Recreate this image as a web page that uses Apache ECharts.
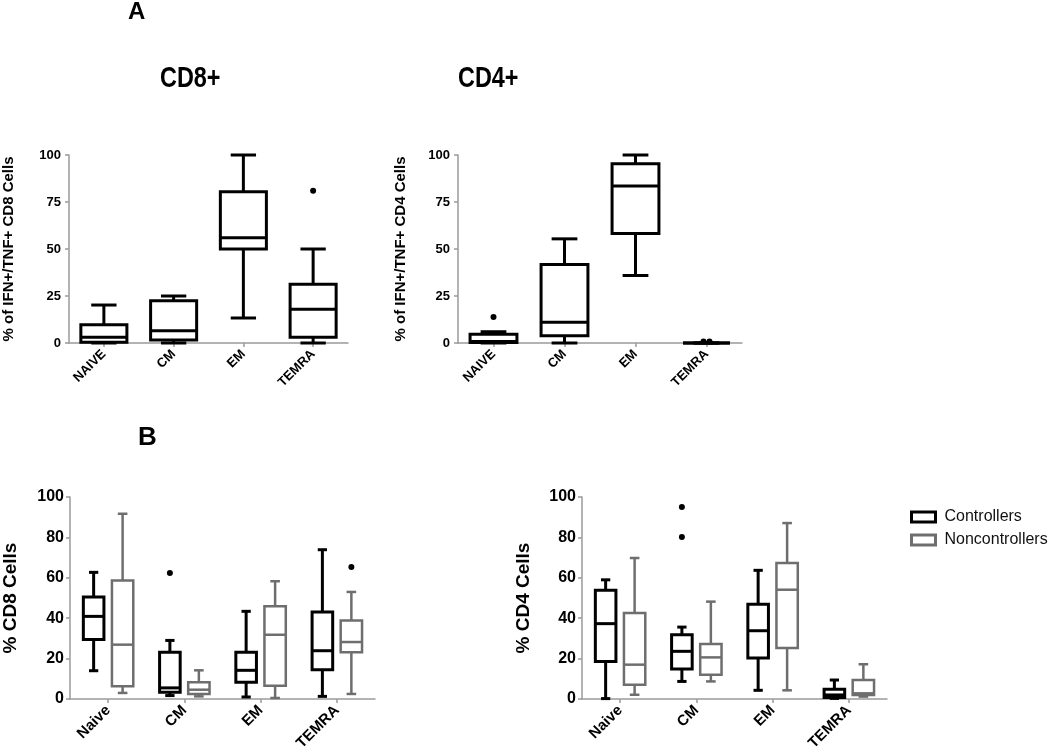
<!DOCTYPE html>
<html>
<head>
<meta charset="utf-8">
<script src="https://cdn.jsdelivr.net/npm/echarts@6/dist/echarts.min.js"></script>
<style>
html,body{margin:0;padding:0;background:#fff;}
#chart{width:1050px;height:754px;}
</style>
</head>
<body>
<div id="chart"></div>
<script>
// ---------- DATA ----------
const categoriesA = ['NAIVE', 'CM', 'EM', 'TEMRA'];
const categoriesB = ['Naive', 'CM', 'EM', 'TEMRA'];
const yTicksA = [0, 25, 50, 75, 100];
const yTicksB = [0, 20, 40, 60, 80, 100];

// box stats: [min, Q1, median, Q3, max] per category
const cd8A = [
  [0, 0.4, 3, 9.7, 20.2],
  [0, 1.6, 6.5, 22.5, 25],
  [13.3, 50, 56, 80.5, 100],
  [0, 3, 18, 31.3, 50]
];
const cd8AOutliers = [[3, 81]];

const cd4A = [
  [0, 0.3, 0.8, 4.6, 6],
  [0, 3.9, 11, 41.7, 55.4],
  [35.9, 58.3, 83.5, 95.4, 100],
  [0, 0, 0, 0, 0]
];
const cd4AOutliers = [[0, 13.8], [3, 0.8], [3, 0.8]];

const cd8Controllers = [
  [14, 29.4, 40.9, 50.5, 62.7],
  [1.7, 3.3, 5.5, 23.1, 29],
  [1, 8.3, 14.2, 23.1, 43.4],
  [1.3, 14.5, 23.9, 43.1, 73.9]
];
const cd8ControllersOutliers = [[1, 62.4]];
const cd8Noncontrollers = [
  [3, 6.3, 26.9, 58.7, 91.7],
  [1.3, 2.5, 4.6, 8.3, 14.2],
  [0.5, 6.6, 31.8, 45.9, 58.3],
  [2.5, 23.1, 28.2, 38.9, 53]
];
const cd8NoncontrollersOutliers = [[3, 65.3]];

const cd4Controllers = [
  [0.2, 18.6, 37.3, 53.8, 59],
  [8.7, 14.9, 23.6, 31.8, 35.6],
  [4.3, 20.3, 33.8, 46.9, 63.7],
  [0.3, 0.7, 2, 4.8, 9.4]
];
const cd4ControllersOutliers = [[1, 95], [1, 80.2]];
const cd4Noncontrollers = [
  [2.1, 7.1, 17, 42.6, 69.8],
  [8.7, 12, 20.6, 27.2, 48.2],
  [4.3, 25.2, 54.1, 67.3, 87.1],
  [1.2, 2, 2.8, 9.4, 17.2]
];
const cd4NoncontrollersOutliers = [];

// ---------- HELPERS ----------
const FONT = 'Liberation Sans';
const BLACK = '#000';
const GRAY = '#6e6e6e';

function boxData(stats) {
  return stats.map((s, i) => [i].concat(s));
}
function outlierData(list) {
  // mark duplicates so they are drawn side by side
  return list.map((o, i) => {
    const same = list.filter(p => p[0] === o[0] && p[1] === o[1]);
    const k = list.slice(0, i).filter(p => p[0] === o[0] && p[1] === o[1]).length;
    return [o[0], o[1], k, same.length];
  });
}
function boxRenderer(color, lw, boxFrac, capFrac, offFrac) {
  return function (params, api) {
    const cat = api.value(0);
    const band = api.size([1, 0])[0];
    const cx = api.coord([cat, 0])[0] + offFrac * band;
    const y = (i) => api.coord([cat, api.value(i)])[1];
    const yMin = y(1), yQ1 = y(2), yMed = y(3), yQ3 = y(4), yMax = y(5);
    const hw = boxFrac * band / 2, cw = capFrac * hw;
    const st = { stroke: color, lineWidth: lw };
    return {
      type: 'group',
      children: [
        { type: 'line', shape: { x1: cx, y1: yQ3, x2: cx, y2: yMax }, style: st },
        { type: 'line', shape: { x1: cx, y1: yQ1, x2: cx, y2: yMin }, style: st },
        { type: 'line', shape: { x1: cx - cw, y1: yMax, x2: cx + cw, y2: yMax }, style: st },
        { type: 'line', shape: { x1: cx - cw, y1: yMin, x2: cx + cw, y2: yMin }, style: st },
        { type: 'rect', shape: { x: cx - hw, y: yQ3, width: 2 * hw, height: yQ1 - yQ3 },
          style: { fill: '#fff', stroke: color, lineWidth: lw } },
        { type: 'line', shape: { x1: cx - hw, y1: yMed, x2: cx + hw, y2: yMed }, style: st }
      ]
    };
  };
}
function dotRenderer(color, r, offFrac) {
  return function (params, api) {
    const cat = api.value(0);
    const band = api.size([1, 0])[0];
    const p = api.coord([cat, api.value(1)]);
    const k = api.value(2), n = api.value(3);
    const cx = p[0] + offFrac * band + (k - (n - 1) / 2) * 6;
    return { type: 'circle', shape: { cx: cx, cy: p[1], r: r }, style: { fill: color } };
  };
}
function boxSeries(name, stats, idx, color, lw, boxFrac, capFrac, offFrac) {
  return {
    type: 'custom', name: name, xAxisIndex: idx, yAxisIndex: idx,
    data: boxData(stats), encode: { x: 0, y: [1, 2, 3, 4, 5] },
    renderItem: boxRenderer(color, lw, boxFrac, capFrac, offFrac),
    itemStyle: { color: '#fff', borderColor: color }, silent: true, z: 3
  };
}
function dotSeries(name, list, idx, color, offFrac) {
  return {
    type: 'custom', name: name, xAxisIndex: idx, yAxisIndex: idx,
    data: outlierData(list), encode: { x: 0, y: 1 },
    renderItem: dotRenderer(color, 3, offFrac), silent: true, z: 4
  };
}
function xAxis(idx, cats, fs) {
  return {
    type: 'category', gridIndex: idx, data: cats,
    axisLine: { lineStyle: { color: '#9a9a9a', width: 1.5 } },
    axisTick: { show: true, alignWithLabel: true, length: 4, lineStyle: { color: '#9a9a9a', width: 1.5 } },
    axisLabel: { rotate: 45, margin: 9, color: '#000', fontFamily: FONT, fontWeight: 'bold', fontSize: fs, interval: 0 },
    splitLine: { show: false }
  };
}
function yAxis(idx, ticks, name, nameFs, nameGap, labelFs, labelMargin) {
  return {
    type: 'value', gridIndex: idx,
    min: ticks[0], max: ticks[ticks.length - 1], interval: ticks[1] - ticks[0],
    name: name, nameLocation: 'middle', nameGap: nameGap, nameRotate: 90,
    nameTextStyle: { color: '#000', fontFamily: FONT, fontWeight: 'bold', fontSize: nameFs },
    axisLine: { show: true, lineStyle: { color: '#9a9a9a', width: 1.5 } },
    axisTick: { show: true, length: 4, lineStyle: { color: '#9a9a9a', width: 1.5 } },
    axisLabel: { color: '#000', fontFamily: FONT, fontWeight: 'bold', fontSize: labelFs, margin: labelMargin },
    splitLine: { show: false }
  };
}

const chart = echarts.init(document.getElementById('chart'), null, { renderer: 'canvas' });

const offB = 0.19;
const option = {
  backgroundColor: '#fff',
  animation: false,
  grid: [
    { left: 66, top: 155, width: 282, height: 188 },
    { left: 458, top: 155, width: 284, height: 188 },
    { left: 68, top: 497, width: 307, height: 202 },
    { left: 582, top: 497, width: 305, height: 202 }
  ],
  xAxis: [
    xAxis(0, categoriesA, 13),
    xAxis(1, categoriesA, 13),
    xAxis(2, categoriesB, 15),
    xAxis(3, categoriesB, 15)
  ],
  yAxis: [
    yAxis(0, yTicksA, '% of IFN+/TNF+ CD8 Cells', 15, 53, 13, 8),
    yAxis(1, yTicksA, '% of IFN+/TNF+ CD4 Cells', 15, 50, 13, 8),
    yAxis(2, yTicksB, '% CD8 Cells', 19, 50, 16, 6),
    yAxis(3, yTicksB, '% CD4 Cells', 19, 49, 16, 6)
  ],
  legend: {
    orient: 'vertical', left: 905, top: 504, itemGap: 7,
    itemWidth: 24, itemHeight: 10,
    textStyle: { fontFamily: FONT, fontSize: 16, color: '#111', padding: [0, 0, 0, 4] },
    data: [
      { name: 'Controllers', icon: 'rect', itemStyle: { color: '#fff', borderColor: BLACK, borderWidth: 3 } },
      { name: 'Noncontrollers', icon: 'rect', itemStyle: { color: '#fff', borderColor: GRAY, borderWidth: 3 } }
    ],
    selectedMode: false
  },
  graphic: [
    { type: 'text', x: 128, y: 12, style: { text: 'A', font: 'bold 24px "Liberation Sans"', fill: '#000', verticalAlign: 'middle' } },
    { type: 'text', x: 160, y: 79, scaleX: 0.78, style: { text: 'CD8+', font: 'bold 30px "Liberation Sans"', fill: '#000', verticalAlign: 'middle' } },
    { type: 'text', x: 458, y: 79, scaleX: 0.78, style: { text: 'CD4+', font: 'bold 30px "Liberation Sans"', fill: '#000', verticalAlign: 'middle' } },
    { type: 'text', x: 138, y: 438, style: { text: 'B', font: 'bold 26px "Liberation Sans"', fill: '#000', verticalAlign: 'middle' } }
  ],
  series: [
    boxSeries('CD8 A', cd8A, 0, BLACK, 3, 0.66, 0.55, 0),
    dotSeries('CD8 A out', cd8AOutliers, 0, BLACK, 0),
    boxSeries('CD4 A', cd4A, 1, BLACK, 3, 0.66, 0.55, 0),
    dotSeries('CD4 A out', cd4AOutliers, 1, BLACK, 0),
    boxSeries('Controllers', cd8Controllers, 2, BLACK, 3, 0.27, 0.45, -offB),
    dotSeries('Controllers', cd8ControllersOutliers, 2, BLACK, -offB),
    boxSeries('Noncontrollers', cd8Noncontrollers, 2, GRAY, 2.5, 0.28, 0.45, offB),
    dotSeries('Noncontrollers', cd8NoncontrollersOutliers, 2, BLACK, offB),
    boxSeries('Controllers', cd4Controllers, 3, BLACK, 3, 0.27, 0.45, -offB),
    dotSeries('Controllers', cd4ControllersOutliers, 3, BLACK, -offB),
    boxSeries('Noncontrollers', cd4Noncontrollers, 3, GRAY, 2.5, 0.28, 0.45, offB),
    dotSeries('Noncontrollers', cd4NoncontrollersOutliers, 3, BLACK, offB)
  ]
};
chart.setOption(option);
</script>
</body>
</html>
